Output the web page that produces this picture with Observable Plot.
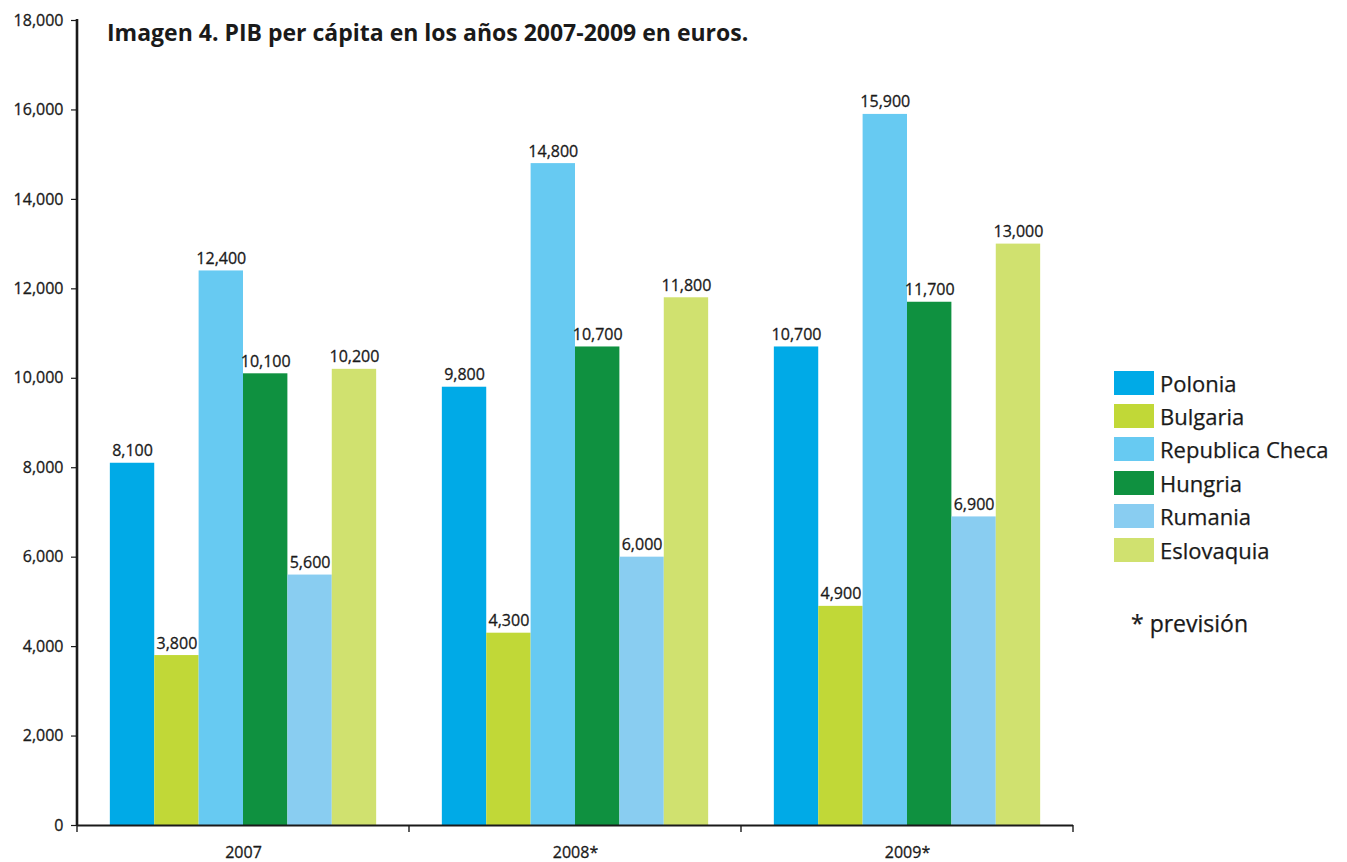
<!DOCTYPE html>
<html>
<head>
<meta charset="utf-8">
<script src="https://cdn.jsdelivr.net/npm/d3@7"></script>
<script src="https://cdn.jsdelivr.net/npm/@observablehq/plot@0.6"></script>
<style>
  html, body { margin: 0; padding: 0; background: #fff; }
  #wrap { position: relative; width: 1347px; height: 862px; font-family: "Open Sans", sans-serif; color: #1a1a1a; }
  #title { position: absolute; left: 107px; top: 16px; font-size: 23px; font-weight: 700; white-space: nowrap; }
  #legend { position: absolute; left: 1114px; top: 366px; }
  .item { display: flex; align-items: center; height: 33.4px; font-size: 22px; -webkit-text-stroke: 0.25px #1a1a1a; }
  .sw { width: 40px; height: 24px; margin-right: 6px; }
  #note { position: absolute; left: 1131px; top: 607px; font-size: 23px; white-space: nowrap; -webkit-text-stroke: 0.25px #1a1a1a; }
  svg text { paint-order: stroke; }
</style>
</head>
<body>
<div id="wrap">
  <div id="chart"></div>
  <div id="title">Imagen 4. PIB per cápita en los años 2007-2009 en euros.</div>
  <div id="legend"></div>
  <div id="note">* previsión</div>
</div>
<script>
const years = ["2007", "2008*", "2009*"];
const countries = ["Polonia", "Bulgaria", "Republica Checa", "Hungria", "Rumania", "Eslovaquia"];
const colors = ["#00aae7", "#c1d837", "#67caf2", "#0f9140", "#89cdf1", "#d0e16f"];
const polonia = [8100, 9800, 10700];
const bulgaria = [3800, 4300, 4900];
const republicaCheca = [12400, 14800, 15900];
const hungria = [10100, 10700, 11700];
const rumania = [5600, 6000, 6900];
const eslovaquia = [10200, 11800, 13000];
const yTicks = [0, 2000, 4000, 6000, 8000, 10000, 12000, 14000, 16000, 18000];

const series = [polonia, bulgaria, republicaCheca, hungria, rumania, eslovaquia];
const table = [];
years.forEach((year, i) => {
  countries.forEach((country, j) => {
    table.push({ year, country, value: series[j][i] });
  });
});

const fmt = d3.format(",");
const ink = "#1a1a1a";

const chart = Plot.plot({
  width: 1347,
  height: 862,
  marginLeft: 77,
  marginRight: 274,
  marginTop: 20,
  marginBottom: 37,
  style: { fontFamily: "Open Sans, sans-serif", fontSize: "16px", color: ink, background: "transparent" },
  fx: { domain: years, padding: 0, label: null, round: false },
  x: { domain: countries, paddingInner: 0, paddingOuter: 0.74, axis: null, round: false },
  y: { domain: [0, 18000], label: null },
  color: { domain: countries, range: colors },
  marks: [
    Plot.barY(table, { fx: "year", x: "country", y: "value", fill: "country" }),
    Plot.text(table, { fx: "year", x: "country", y: "value", text: d => fmt(d.value), lineAnchor: "bottom", dy: -7, fontSize: 16, fill: ink, stroke: ink, strokeWidth: 0.3 }),
    Plot.ruleY([0], { stroke: ink, strokeWidth: 2.2 }),
    Plot.axisY({ ticks: yTicks, tickFormat: fmt, tickSize: 6, tickPadding: 8, fontSize: 16, stroke: ink, strokeWidth: 1.2 }),
    Plot.axisFx({ anchor: "bottom", tickSize: 0, tickPadding: 21, fontSize: 16, label: null })
  ]
});

document.getElementById("chart").appendChild(chart);

const svg = d3.select(chart);
// slightly heavier axis labels, like the reference's medium-weight type
svg.selectAll('g[aria-label="y-axis tick label"], g[aria-label="fx-axis tick label"]')
  .attr("stroke", ink).attr("stroke-width", 0.3);

// axis line on the left and boundary ticks along the bottom, from the plot's own scales
const fxs = chart.scale("fx");
const ys = chart.scale("y");
const y0 = ys.apply(0), yTop = ys.apply(18000);
const left = fxs.apply(years[0]);
svg.append("line").attr("x1", left).attr("x2", left).attr("y1", yTop - 1).attr("y2", y0 + 1)
  .attr("stroke", ink).attr("stroke-width", 2.6);
const bounds = years.map(y => fxs.apply(y));
bounds.push(fxs.apply(years[years.length - 1]) + fxs.bandwidth);
svg.append("g").selectAll("line").data(bounds).join("line")
  .attr("x1", d => d).attr("x2", d => d).attr("y1", y0).attr("y2", y0 + 7)
  .attr("stroke", ink).attr("stroke-width", 1.4);

// legend
const lg = d3.select("#legend");
countries.forEach((c, i) => {
  const it = lg.append("div").attr("class", "item");
  it.append("div").attr("class", "sw").style("background", colors[i]);
  it.append("span").text(c);
});
</script>
</body>
</html>
